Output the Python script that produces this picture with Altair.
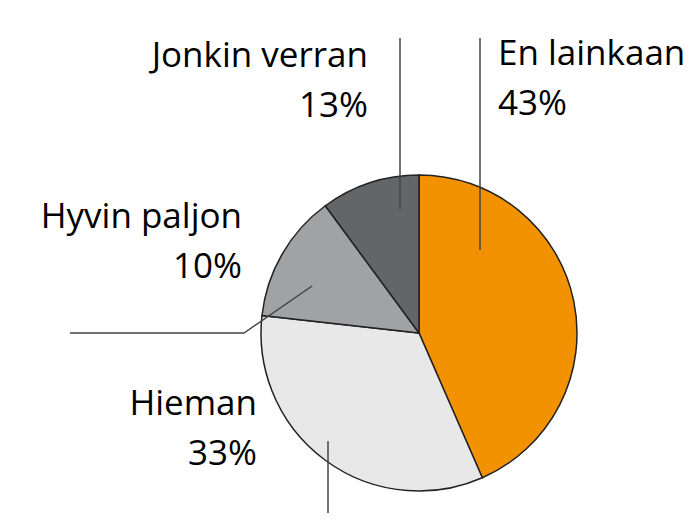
import altair as alt
import pandas as pd

categories = ["En lainkaan", "Hieman", "Jonkin verran", "Hyvin paljon"]
values = [43, 33, 13, 10]
colors = ["#F39200", "#E8E8E8", "#A1A2A4", "#646567"]
pct_labels = ["43%", "33%", "13%", "10%"]

# label anchor positions (page pixels) and alignment
label_x = [498, 257, 368, 242]
label_y = [65, 415, 67, 228]
label_align = ["left", "right", "right", "right"]

# leader lines: (line id, x, y) in page pixels
line_id = [0, 0, 1, 1, 2, 2, 2, 3, 3]
line_x = [480, 480, 400, 400, 70, 244, 312, 328, 328]
line_y = [38, 250, 38, 209, 333, 333, 286, 441, 525]
line_ord = [0, 1, 0, 1, 0, 1, 2, 0, 1]

W, H = 676, 505
pie = pd.DataFrame({"cat": categories, "val": values, "ord": list(range(4))})
labels = pd.DataFrame({"cat": categories, "pct": pct_labels, "x": label_x,
                       "y": label_y, "y2": [v + 50 for v in label_y], "align": label_align})
lines = pd.DataFrame({"id": line_id, "x": line_x, "y": line_y, "o": line_ord})

xs = alt.Scale(domain=[8, 8 + W], nice=False, zero=False)
ys = alt.Scale(domain=[8, 8 + H], nice=False, zero=False, reverse=True)

arcs = alt.Chart(pie).mark_arc(radius=158, stroke="#222222", strokeWidth=1.5).encode(
    theta=alt.Theta("val:Q", stack=True),
    order=alt.Order("ord:Q"),
    color=alt.Color("cat:N", scale=alt.Scale(domain=categories, range=colors), legend=None),
    x=alt.value(419 - 8),
    y=alt.value(333 - 8),
)

leader = alt.Chart(lines).mark_line(color="#444444", strokeWidth=1.5).encode(
    x=alt.X("x:Q", scale=xs, axis=None),
    y=alt.Y("y:Q", scale=ys, axis=None),
    detail="id:N",
    order="o:Q",
)

def text_layer(align, field, yfield):
    return alt.Chart(labels).transform_filter(alt.datum.align == align).mark_text(
        align=align, baseline="alphabetic", font="Open Sans", fontSize=35, color="#000000"
    ).encode(
        x=alt.X("x:Q", scale=xs, axis=None),
        y=alt.Y(f"{yfield}:Q", scale=ys, axis=None),
        text=f"{field}:N",
    )

texts = [text_layer(a, f, yf) for a in ["left", "right"] for f, yf in [("cat", "y"), ("pct", "y2")]]

chart = alt.layer(arcs, leader, *texts).properties(
    width=W, height=H, padding=0, autosize=alt.AutoSizeParams(type="none")
).configure_view(stroke=None).resolve_scale(x="shared", y="shared")

chart.save("out.html", embed_options={"renderer": "svg", "actions": False})
